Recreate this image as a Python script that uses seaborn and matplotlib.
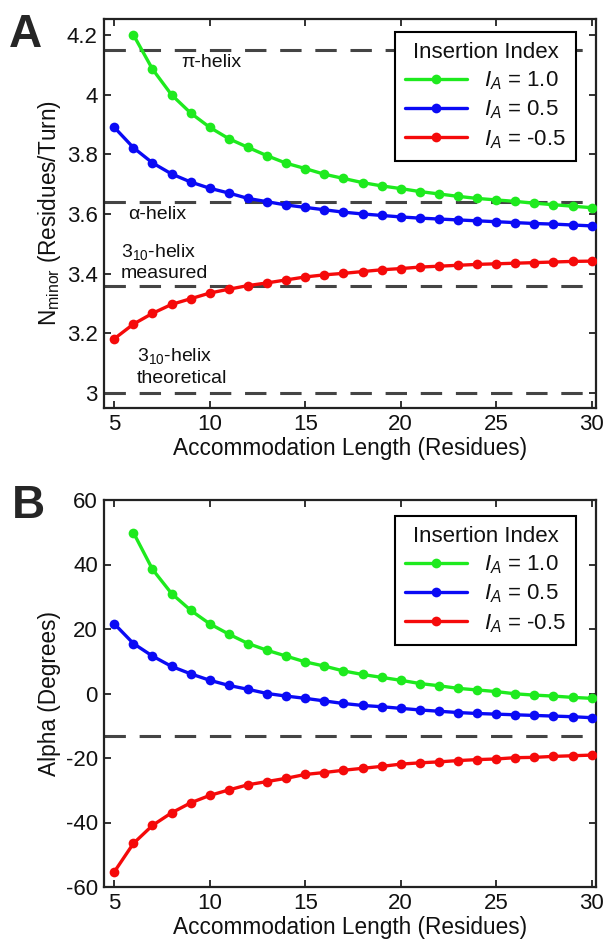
import numpy as np
import pandas as pd
import matplotlib
matplotlib.use("Agg")
import matplotlib.pyplot as plt
import seaborn as sns
from matplotlib.ticker import FuncFormatter

# ---- data ---------------------------------------------------------------
length_green = list(range(6, 31))
length_all = list(range(5, 31))

nminor_ia_1p0 = [4.200, 4.085, 3.999, 3.938, 3.890, 3.852, 3.823, 3.795, 3.770,
                 3.752, 3.733, 3.719, 3.705, 3.694, 3.685, 3.675, 3.667, 3.659,
                 3.652, 3.647, 3.642, 3.636, 3.631, 3.626, 3.621]
nminor_ia_0p5 = [3.890, 3.822, 3.771, 3.734, 3.707, 3.686, 3.670, 3.652, 3.641,
                 3.630, 3.622, 3.614, 3.606, 3.600, 3.595, 3.590, 3.586, 3.583,
                 3.580, 3.577, 3.574, 3.571, 3.568, 3.566, 3.563, 3.560]
nminor_ia_m0p5 = [3.182, 3.231, 3.267, 3.297, 3.316, 3.335, 3.348, 3.360, 3.369,
                  3.379, 3.389, 3.396, 3.401, 3.407, 3.413, 3.417, 3.422, 3.425,
                  3.428, 3.431, 3.433, 3.435, 3.437, 3.439, 3.441, 3.442]

alpha_ia_1p0 = [49.9, 38.5, 31.0, 25.8, 21.6, 18.4, 15.5, 13.4, 11.6, 9.8, 8.5,
                7.0, 5.9, 5.0, 4.1, 3.1, 2.4, 1.6, 1.1, 0.6, -0.1, -0.5, -0.8,
                -1.2, -1.5]
alpha_ia_0p5 = [21.6, 15.5, 11.6, 8.4, 6.1, 4.1, 2.5, 1.3, 0.0, -0.8, -1.5, -2.3,
                -3.1, -3.7, -4.1, -4.6, -5.1, -5.5, -5.9, -6.2, -6.4, -6.6, -6.8,
                -7.0, -7.2, -7.5]
alpha_ia_m0p5 = [-55.3, -46.5, -40.9, -37.0, -33.9, -31.6, -29.9, -28.3, -27.3,
                 -26.3, -25.1, -24.5, -23.8, -23.2, -22.6, -21.9, -21.5, -21.2,
                 -20.8, -20.5, -20.3, -19.9, -19.8, -19.5, -19.3, -19.1]

series_labels = [r"$I_A$ = 1.0", r"$I_A$ = 0.5", r"$I_A$ = -0.5"]
series_colors = ["#1eea1e", "#0a0af5", "#f50a0a"]

helix_levels = [4.15, 3.64, 3.36, 3.0]      # pi, alpha, 3-10 measured, 3-10 theoretical
alpha_reference = [-13.2]

xticks = [5, 10, 15, 20, 25, 30]
yticks_a = [3.0, 3.2, 3.4, 3.6, 3.8, 4.0, 4.2]
yticks_b = [-60, -40, -20, 0, 20, 40, 60]


def long_frame(x_lists, y_lists):
    rows = []
    for lab, xs, ys in zip(series_labels, x_lists, y_lists):
        for x, y in zip(xs, ys):
            rows.append({"length": x, "value": y, "series": lab})
    return pd.DataFrame(rows)


df_a = long_frame([length_green, length_all, length_all],
                  [nminor_ia_1p0, nminor_ia_0p5, nminor_ia_m0p5])
df_b = long_frame([length_green, length_all, length_all],
                  [alpha_ia_1p0, alpha_ia_0p5, alpha_ia_m0p5])

# ---- style --------------------------------------------------------------
sns.set_style("ticks")
plt.rcParams["font.family"] = ["Liberation Sans", "DejaVu Sans"]
plt.rcParams["mathtext.fontset"] = "custom"
plt.rcParams["mathtext.rm"] = "Liberation Sans"
plt.rcParams["mathtext.it"] = "Liberation Sans:italic"
plt.rcParams["mathtext.bf"] = "Liberation Sans:bold"

SPINE = "#222222"
DASH = "#444444"
TEXT = "#111111"
palette = dict(zip(series_labels, series_colors))

fig = plt.figure(figsize=(6.04, 9.40), dpi=100)
ax_a = fig.add_axes([104 / 604, 1 - 408 / 940, 492 / 604, 389 / 940])
ax_b = fig.add_axes([104 / 604, 1 - 887 / 940, 492 / 604, 387 / 940])


def draw_panel(ax, df, ref_levels, ylim, yticks, legend_top):
    sns.lineplot(data=df, x="length", y="value", hue="series",
                 hue_order=series_labels, palette=palette, marker="o",
                 markersize=7, markeredgewidth=0, linewidth=2.4,
                 estimator=None, legend=False, ax=ax, zorder=3)
    handles = list(ax.get_lines())[:3]
    for lvl in ref_levels:
        ax.axhline(lvl, color=DASH, linewidth=2.2, dashes=(7, 4.5), zorder=2)
    ax.set_xlim(4.46, 30.23)
    ax.set_ylim(*ylim)
    ax.set_xticks(xticks)
    ax.set_yticks(yticks)
    ax.yaxis.set_major_formatter(FuncFormatter(lambda v, p: f"{v:g}"))
    ax.tick_params(direction="in", top=True, right=True, length=5, width=1.3,
                   labelsize=16, pad=4.5, color=SPINE, labelcolor=TEXT)
    for s in ax.spines.values():
        s.set_linewidth(1.6)
        s.set_color(SPINE)
    ax.set_xlabel("Accommodation Length (Residues)", fontsize=16.3, labelpad=1,
                  color=TEXT)
    leg = ax.legend(handles, series_labels, title="Insertion Index",
                    loc="upper right", bbox_to_anchor=(0.959, legend_top),
                    borderaxespad=0, frameon=True, fancybox=False,
                    framealpha=1, edgecolor="black", fontsize=16,
                    title_fontsize=16, handlelength=2.8, handletextpad=0.75,
                    labelspacing=0.3, borderpad=0.45, numpoints=1)
    leg.get_frame().set_linewidth(1.5)
    for t in leg.get_texts():
        t.set_color(TEXT)
    leg.get_title().set_color(TEXT)
    return ax


draw_panel(ax_a, df_a, helix_levels, (2.95, 4.253), yticks_a, 0.967)
draw_panel(ax_b, df_b, alpha_reference, (-60, 60), yticks_b, 0.959)

ax_a.set_ylabel(r"N$_{\mathrm{minor}}$ (Residues/Turn)", fontsize=16.3,
                labelpad=3, color=TEXT)
ax_b.set_ylabel("Alpha (Degrees)", fontsize=16.3, labelpad=3, color=TEXT)

# helix reference annotations
note_kw = dict(fontsize=14, color=TEXT, zorder=4)
ax_a.text(10.1, 4.106, "\u03c0-helix", ha="center", va="center", **note_kw)
ax_a.text(7.25, 3.597, "\u03b1-helix", ha="center", va="center", **note_kw)
ax_a.text(5.35, 3.474, r"$3_{10}$-helix", ha="left", va="center", **note_kw)
ax_a.text(5.35, 3.400, "measured", ha="left", va="center", **note_kw)
ax_a.text(6.19, 3.123, r"$3_{10}$-helix", ha="left", va="center", **note_kw)
ax_a.text(6.19, 3.048, "theoretical", ha="left", va="center", **note_kw)

# panel letters
fig.text(9 / 604, 1 - 47 / 940, "A", fontsize=33, fontweight="bold",
         ha="left", va="baseline")
fig.text(12 / 604, 1 - 518 / 940, "B", fontsize=33, fontweight="bold",
         ha="left", va="baseline")

fig.savefig("out.png", dpi=100)
